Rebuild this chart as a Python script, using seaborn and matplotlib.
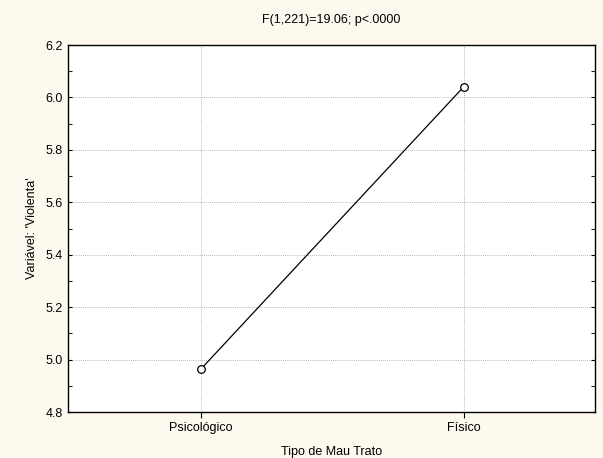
import matplotlib
matplotlib.use("Agg")
import matplotlib.pyplot as plt
from matplotlib.ticker import MultipleLocator
import seaborn as sns
import pandas as pd

# Mean score per type of maltreatment
categories = ["Psicológico", "Físico"]
means = [4.963, 6.04]
title = "F(1,221)=19.06; p<.0000"
y_ticks = [4.8, 5.0, 5.2, 5.4, 5.6, 5.8, 6.0, 6.2]

sns.set_theme(style="white")
plt.rcParams["font.family"] = ["Liberation Sans", "DejaVu Sans"]

df = pd.DataFrame({"tipo": categories, "media": means, "pos": range(len(categories))})

bg = "#fef9ee"
fig = plt.figure(figsize=(6.03, 4.58), dpi=100, facecolor=bg)
ax = fig.add_axes([68 / 603, 46 / 458, 527 / 603, 367 / 458])
ax.set_facecolor("white")

sns.lineplot(data=df, x="pos", y="media", ax=ax, color="black", linewidth=0.9,
             marker="o", markersize=5.5, markerfacecolor="white",
             markeredgecolor="black", markeredgewidth=0.9, zorder=3)

ax.set_xlim(-0.505, 1.5)
ax.set_ylim(4.8, 6.2)
ax.set_xticks(df["pos"])
ax.set_xticklabels(categories)
ax.set_yticks(y_ticks)
ax.set_yticklabels([f"{v:.1f}" for v in y_ticks])
ax.yaxis.set_minor_locator(MultipleLocator(0.1))

ax.grid(True, which="major", color="#a0a0a0", linestyle=(0, (1, 1.5)), linewidth=0.6)
for side in ["left", "right", "top", "bottom"]:
    ax.spines[side].set_visible(True)
    ax.spines[side].set_color("black")
    ax.spines[side].set_linewidth(1.0)

ax.tick_params(axis="both", which="major", labelsize=9, colors="black",
               length=3, width=0.8, direction="in", left=True, right=True,
               bottom=True, pad=4)
ax.tick_params(axis="y", which="minor", length=3, width=0.8, direction="in",
               left=True, right=True)
ax.tick_params(axis="x", which="major", length=4, direction="out", pad=3)
ax.tick_params(axis="x", colors="black", labelcolor="black")

ax.set_title(title, fontsize=9, color="black", pad=16)
ax.set_xlabel("Tipo de Mau Trato", fontsize=9, color="black", labelpad=9)
ax.set_ylabel("Variável: 'Violenta'", fontsize=9, color="black", labelpad=5)

fig.savefig("out.png", dpi=100, facecolor=bg)
